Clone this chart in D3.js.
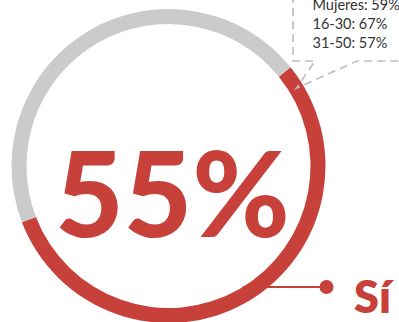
<!DOCTYPE html>
<html>
<head>
<meta charset="utf-8">
<script src="https://cdn.jsdelivr.net/npm/d3@7"></script>
<style>
  html, body { margin: 0; padding: 0; background: #fff; }
  svg { display: block; }
</style>
</head>
<body>
<svg id="chart" width="399" height="322"></svg>
<script>
// Share answering "Sí" and the breakdown shown in the callout
const categories = ["Sí", "No"];
const values = [55, 45];
const breakdownLabels = ["Mujeres", "16-30", "31-50"];
const breakdownValues = [59, 67, 57];

const W = 399, H = 322;
const cx = 168.5, cy = 166;
const rOuter = 157, rInner = 142;
const startDeg = 51;
const red = "#c8403a", grey = "#cbcbcb";

const svg = d3.select("#chart");
const g = svg.append("g").attr("transform", `translate(${cx},${cy})`);

const pie = d3.pie().sort(null).value(d => d)
  .startAngle(startDeg * Math.PI / 180)
  .endAngle((startDeg + 360) * Math.PI / 180);
const arcs = pie(values);
const arc = d3.arc().innerRadius(rInner).outerRadius(rOuter);

g.selectAll("path.ring").data(arcs).join("path")
  .attr("class", "ring")
  .attr("d", arc)
  .attr("fill", (d, i) => i === 0 ? red : grey);

// big percentage
g.append("text")
  .attr("x", 4)
  .attr("y", 71)
  .attr("text-anchor", "middle")
  .attr("font-family", "Lato, sans-serif")
  .attr("font-weight", 900)
  .attr("font-size", 118)
  .attr("fill", red)
  .text(values[0] + "%");

// connector to the "Sí" label
const labelY = 287;
const rMid = (rInner + rOuter) / 2;
const xOnRing = Math.sqrt(rInner * rInner - (labelY - cy) * (labelY - cy));
svg.append("line")
  .attr("x1", cx + xOnRing).attr("y1", labelY)
  .attr("x2", 326.5).attr("y2", labelY)
  .attr("stroke", red).attr("stroke-width", 2);
svg.append("circle")
  .attr("cx", 326.5).attr("cy", labelY).attr("r", 7)
  .attr("fill", red);
svg.append("text")
  .attr("x", 354).attr("y", 313)
  .attr("font-family", "Lato, sans-serif")
  .attr("font-weight", 800)
  .attr("font-size", 45)
  .attr("fill", red)
  .text(categories[0]);

// dashed callout with pointer onto the ring
const pAngle = 58.7 * Math.PI / 180;
const px = cx + rMid * Math.sin(pAngle), py = cy - rMid * Math.cos(pAngle);
const boxLeft = 293, boxBottom = 61;
const callout = d3.path();
callout.moveTo(boxLeft, -5);
callout.lineTo(boxLeft, boxBottom);
callout.lineTo(315, boxBottom);
callout.lineTo(px, py);
callout.lineTo(357, boxBottom);
callout.lineTo(W + 5, boxBottom);
svg.append("path")
  .attr("d", callout.toString())
  .attr("fill", "none")
  .attr("stroke", "#bdbdbd")
  .attr("stroke-width", 1.6)
  .attr("stroke-dasharray", "8,5");

svg.append("g").selectAll("text").data(breakdownLabels).join("text")
  .attr("x", 312.5)
  .attr("y", (d, i) => 10 + i * 19)
  .attr("font-family", "Lato, sans-serif")
  .attr("font-size", 14.5)
  .attr("fill", "#333")
  .text((d, i) => `${d}: ${breakdownValues[i]}%`);
</script>
</body>
</html>
